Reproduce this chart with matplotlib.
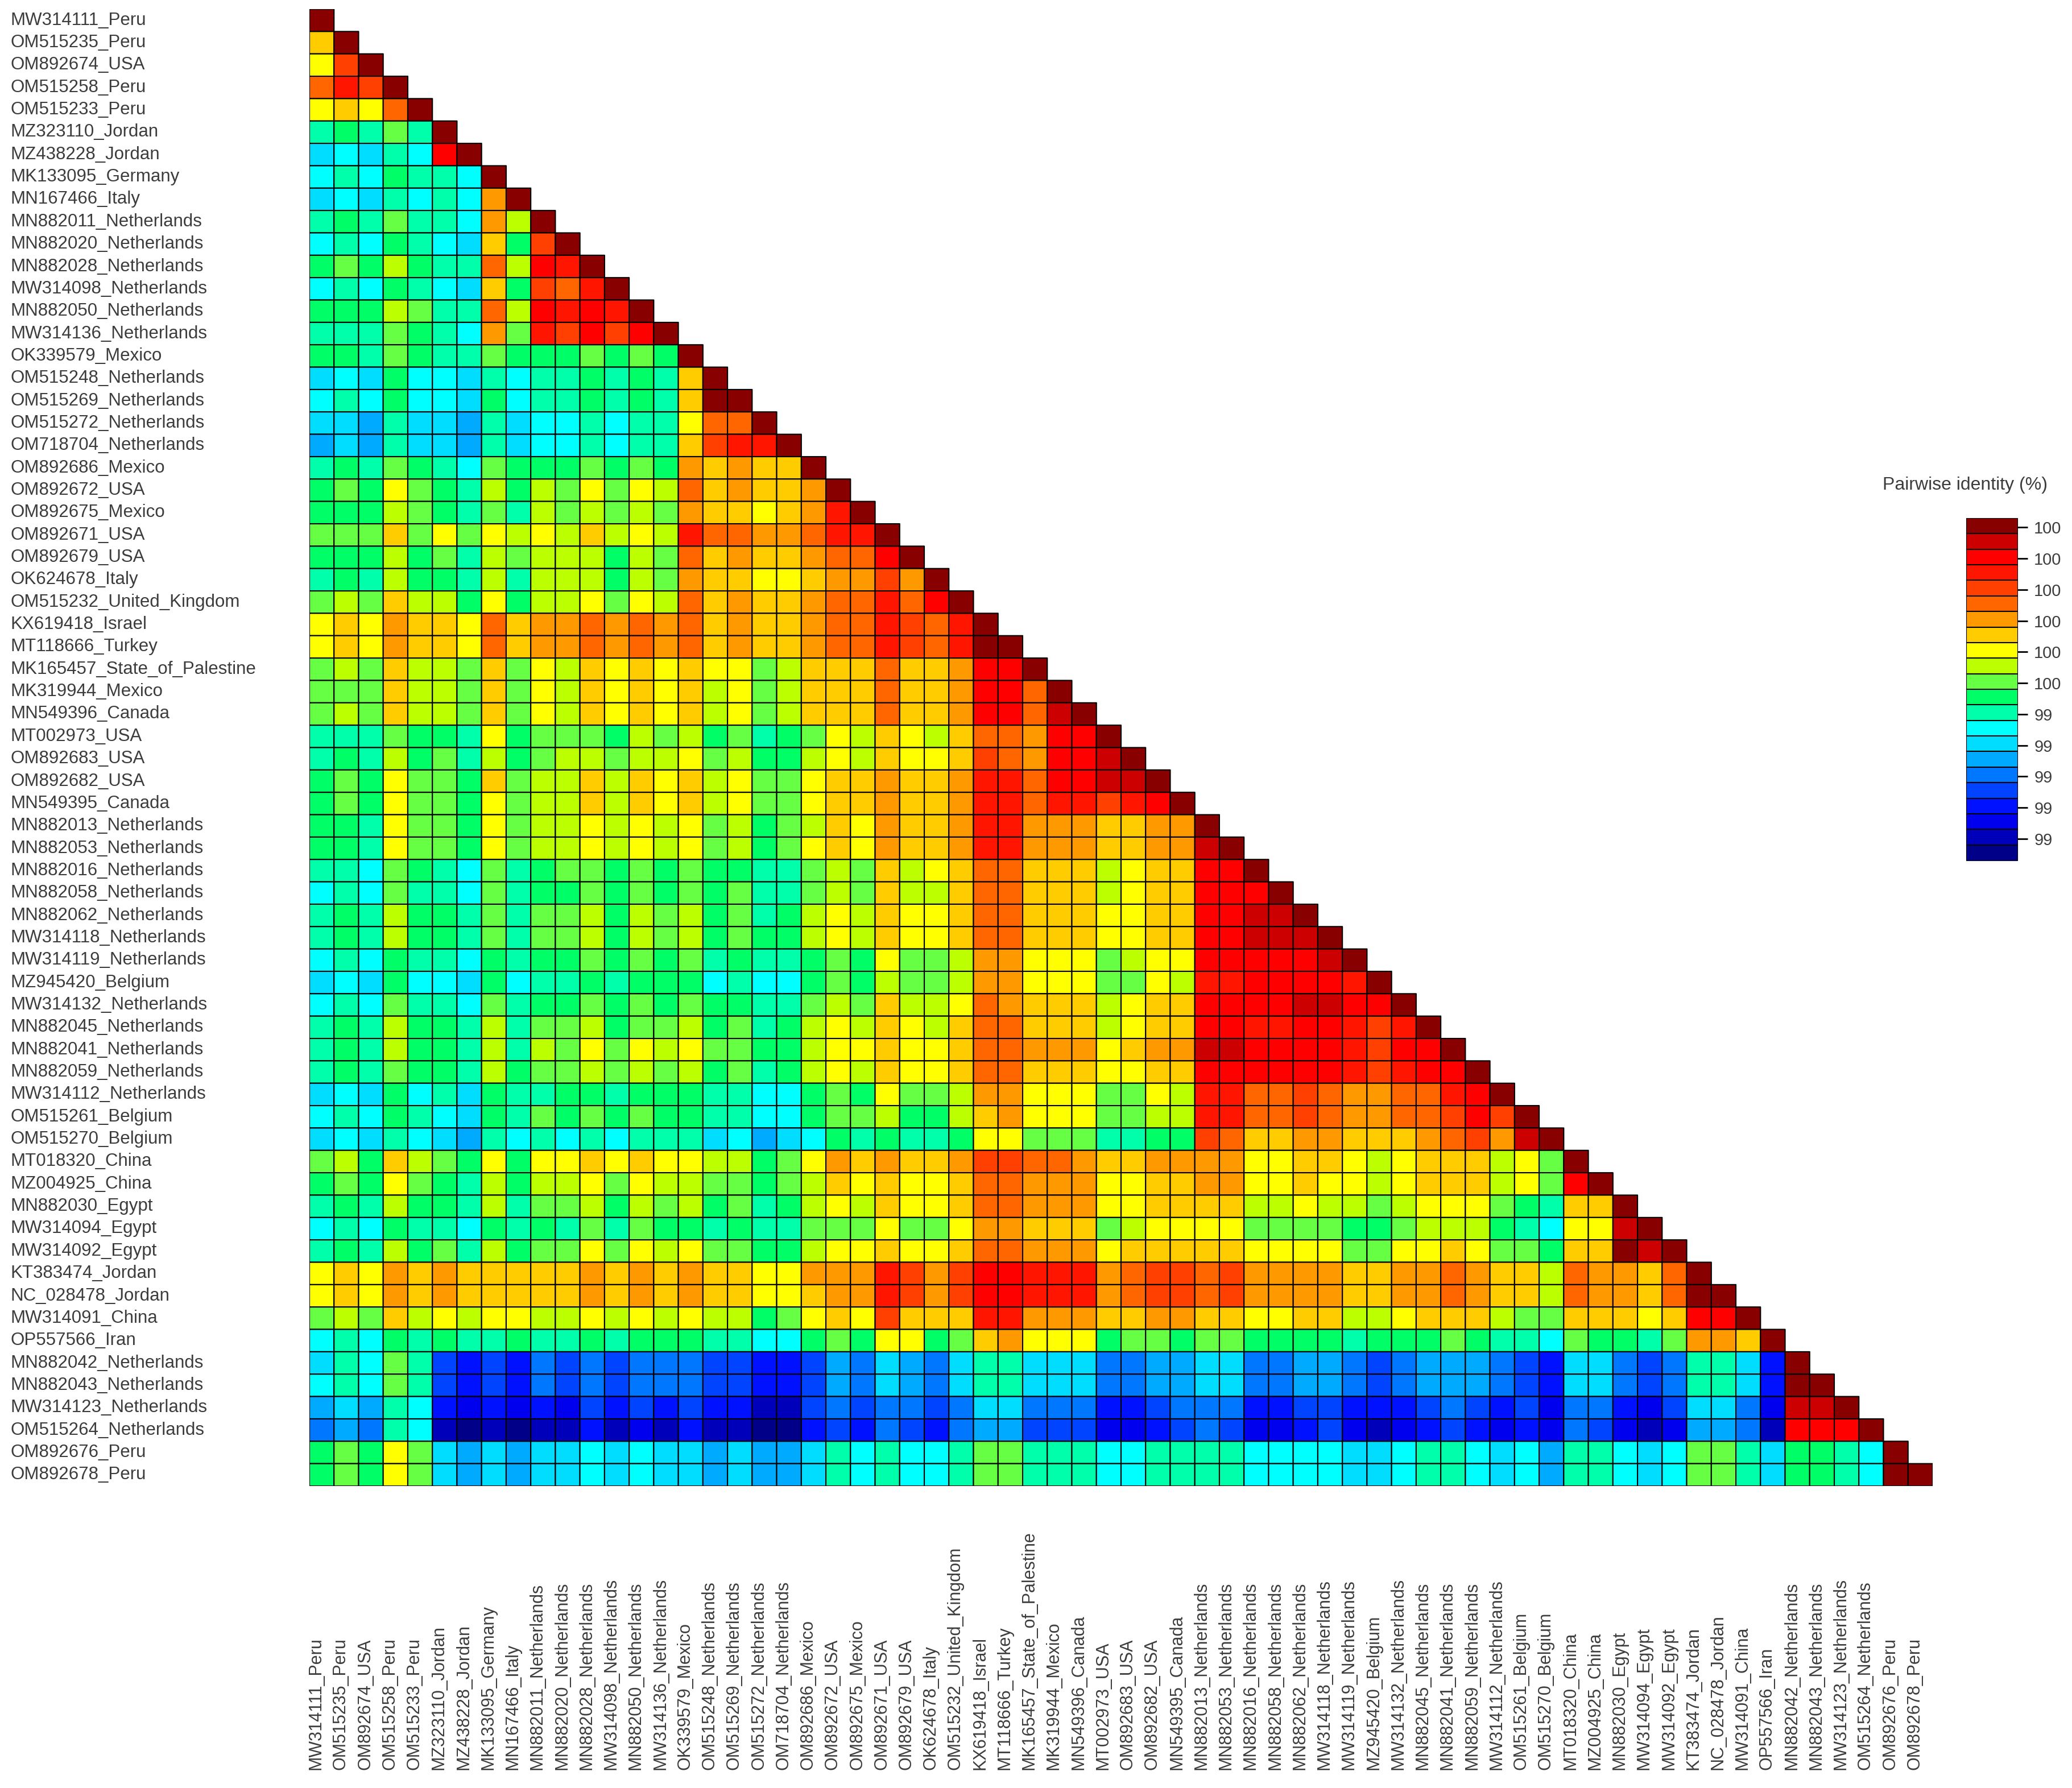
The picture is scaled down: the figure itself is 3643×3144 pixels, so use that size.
import numpy as np
import matplotlib
matplotlib.use("Agg")
import matplotlib.pyplot as plt
from matplotlib.colors import BoundaryNorm, ListedColormap
from matplotlib.transforms import blended_transform_factory

OUTPUT_PATH = "out.png"
WIDTH_PX = 3643
HEIGHT_PX = 3144
TEXT_COLOR = "#3c3c3c"

sequence_labels = [
    "MW314111_Peru", "OM515235_Peru", "OM892674_USA", "OM515258_Peru", "OM515233_Peru",
    "MZ323110_Jordan", "MZ438228_Jordan", "MK133095_Germany", "MN167466_Italy",
    "MN882011_Netherlands", "MN882020_Netherlands", "MN882028_Netherlands",
    "MW314098_Netherlands", "MN882050_Netherlands", "MW314136_Netherlands",
    "OK339579_Mexico", "OM515248_Netherlands", "OM515269_Netherlands",
    "OM515272_Netherlands", "OM718704_Netherlands", "OM892686_Mexico", "OM892672_USA",
    "OM892675_Mexico", "OM892671_USA", "OM892679_USA", "OK624678_Italy",
    "OM515232_United_Kingdom", "KX619418_Israel", "MT118666_Turkey",
    "MK165457_State_of_Palestine", "MK319944_Mexico", "MN549396_Canada", "MT002973_USA",
    "OM892683_USA", "OM892682_USA", "MN549395_Canada", "MN882013_Netherlands",
    "MN882053_Netherlands", "MN882016_Netherlands", "MN882058_Netherlands",
    "MN882062_Netherlands", "MW314118_Netherlands", "MW314119_Netherlands",
    "MZ945420_Belgium", "MW314132_Netherlands", "MN882045_Netherlands",
    "MN882041_Netherlands", "MN882059_Netherlands", "MW314112_Netherlands",
    "OM515261_Belgium", "OM515270_Belgium", "MT018320_China", "MZ004925_China",
    "MN882030_Egypt", "MW314094_Egypt", "MW314092_Egypt", "KT383474_Jordan",
    "NC_028478_Jordan", "MW314091_China", "OP557566_Iran", "MN882042_Netherlands",
    "MN882043_Netherlands", "MW314123_Netherlands", "OM515264_Netherlands",
    "OM892676_Peru", "OM892678_Peru",
]

# pairwise identity, hundredths of a percent above 99, lower triangle row by row
identity_rows = [
    [100],
    [65,100],
    [60,80,100],
    [75,85,80,100],
    [60,65,60,75,100],
    [40,45,40,50,40,100],
    [30,35,30,40,35,90,100],
    [35,40,35,45,40,40,35,100],
    [30,35,30,40,35,40,35,70,100],
    [40,45,40,50,40,40,35,70,55,100],
    [35,40,35,45,40,35,30,65,45,80,100],
    [45,50,45,55,45,40,40,75,55,90,85,100],
    [35,40,35,45,40,35,30,65,45,80,75,85,100],
    [45,45,45,55,50,40,40,75,55,90,85,90,85,100],
    [40,40,40,50,45,40,35,70,50,85,80,90,80,90,100],
    [45,45,40,50,45,40,40,50,45,45,45,50,45,50,45,100],
    [30,35,30,45,35,35,30,40,35,40,40,45,40,45,40,65,100],
    [35,40,35,45,35,35,30,45,35,40,40,45,40,45,40,65,100,100],
    [30,30,25,40,30,30,25,40,30,35,35,40,35,40,40,60,75,75,100],
    [25,30,25,40,30,30,25,40,30,35,35,40,35,40,40,65,80,85,85,100],
    [40,45,40,50,45,40,35,50,45,45,45,50,45,50,45,70,65,70,65,65,100],
    [45,50,45,60,50,45,40,55,45,55,50,60,50,60,55,75,65,70,65,65,70,100],
    [45,45,45,55,50,45,40,50,40,55,50,55,50,55,50,70,65,65,60,65,70,85,100],
    [50,50,50,65,50,60,50,60,55,60,55,65,55,60,55,85,75,75,70,70,75,85,85,100],
    [45,45,45,55,45,50,40,55,50,55,55,55,45,55,50,75,65,70,65,65,70,75,75,90,100],
    [40,45,40,55,45,45,40,55,40,55,55,55,45,55,50,70,65,65,60,60,65,70,70,80,70,100],
    [50,55,50,65,55,55,45,60,45,55,55,60,50,60,55,75,65,70,65,65,70,75,75,85,75,90,100],
    [60,65,60,70,65,65,60,75,65,70,70,75,70,75,70,75,65,70,65,65,70,75,75,85,80,75,85,100],
    [60,65,60,70,65,65,60,75,65,70,70,75,70,75,70,75,65,70,65,65,70,75,75,85,80,75,85,100,100],
    [50,55,50,65,55,55,50,65,50,60,55,65,60,65,60,65,60,60,50,55,65,65,65,75,65,65,70,90,90,100],
    [50,50,50,65,55,55,50,65,50,60,55,65,60,65,60,65,55,60,50,55,65,65,65,75,65,65,70,90,90,75,100],
    [50,55,50,65,55,55,50,65,50,60,55,65,60,65,60,65,55,60,50,55,65,65,65,75,65,65,70,90,90,75,95,100],
    [40,40,40,50,45,45,40,60,45,50,50,50,45,55,50,55,45,50,40,45,50,60,55,65,60,55,65,75,75,70,90,90,100],
    [40,45,40,55,45,50,40,55,45,50,55,55,50,55,55,60,50,55,45,45,55,60,55,65,60,60,65,80,75,70,90,90,95,100],
    [45,50,45,60,50,50,45,65,50,55,55,65,55,65,60,65,55,60,50,50,60,65,65,70,65,65,70,85,85,75,90,90,95,95,100],
    [45,50,45,60,50,50,45,60,50,55,55,65,55,65,60,65,55,60,50,50,60,65,65,70,65,65,70,85,85,75,85,85,80,85,90,100],
    [45,45,40,60,50,50,45,60,50,55,55,60,55,60,55,60,50,55,45,50,55,65,60,70,65,65,70,85,85,70,70,70,65,65,70,70,100],
    [45,45,40,60,50,50,45,60,50,55,55,60,55,60,55,60,50,55,45,50,60,65,60,70,65,65,70,85,85,70,70,70,65,65,70,70,95,100],
    [40,40,35,50,45,40,35,50,40,45,50,50,45,50,45,50,45,45,40,40,50,55,50,65,55,60,65,75,75,65,65,65,55,60,65,65,90,90,100],
    [35,40,35,50,40,40,35,50,40,45,45,50,45,50,45,50,45,50,40,40,50,55,50,65,55,55,65,75,75,65,65,65,55,60,65,65,90,90,90,100],
    [40,45,40,55,45,45,40,50,40,50,50,55,45,55,50,55,45,50,40,45,55,60,55,65,60,60,65,75,75,65,65,65,60,60,65,65,90,90,95,95,100],
    [40,45,40,55,45,45,40,50,40,50,50,55,45,55,50,55,45,50,45,45,55,60,55,65,60,60,65,75,75,65,65,65,60,60,65,65,90,90,95,95,95,100],
    [35,40,35,45,40,40,35,45,40,45,45,50,45,50,45,50,40,45,40,40,45,50,45,60,50,50,55,70,70,60,60,60,50,55,60,60,90,90,90,90,90,95,100],
    [30,35,30,45,35,35,30,45,35,40,40,45,40,45,45,45,35,40,35,35,45,50,45,55,50,50,55,70,70,60,60,60,50,50,60,55,85,85,90,90,90,90,85,100],
    [35,40,35,50,40,40,35,50,40,45,45,50,45,50,45,50,45,45,40,40,50,55,50,65,55,55,60,75,70,65,65,65,55,60,65,65,90,90,90,90,95,95,90,90,100],
    [40,45,40,55,45,45,40,55,40,50,50,55,45,50,50,55,45,50,40,45,55,60,55,65,60,55,65,75,75,65,65,65,55,60,65,65,90,90,85,85,90,90,85,80,85,100],
    [40,45,40,55,45,45,40,55,40,55,50,60,50,60,55,60,50,50,45,45,55,60,60,65,60,60,65,75,75,70,70,70,60,65,70,70,95,95,90,90,90,90,85,80,90,90,100],
    [40,45,40,50,45,45,40,55,45,50,50,55,50,55,50,55,45,50,40,45,55,60,55,65,60,60,65,75,75,65,65,65,60,60,65,65,90,90,90,90,90,90,85,80,85,90,90,100],
    [30,35,30,45,35,40,30,45,40,40,45,45,40,45,45,45,40,40,35,35,45,50,45,60,50,50,55,70,70,60,60,60,50,50,60,55,85,85,75,75,80,75,70,70,75,75,85,90,100],
    [35,40,35,45,40,35,30,45,40,50,45,50,45,50,45,45,40,40,35,35,45,50,50,55,45,45,55,65,70,60,60,60,50,50,55,55,85,85,75,75,80,75,70,70,75,75,80,90,80,100],
    [30,35,30,40,35,30,25,40,35,40,35,40,35,40,40,40,30,35,25,30,35,45,40,45,40,40,45,60,60,50,50,50,40,40,45,45,80,75,65,65,70,70,65,65,65,70,75,80,70,95,100],
    [50,55,45,65,55,50,45,60,45,60,60,65,60,65,60,60,55,55,45,50,60,70,65,70,65,65,70,80,80,75,75,70,65,65,70,70,70,70,60,60,65,65,60,55,60,65,65,65,55,60,50,100],
    [45,50,45,60,50,45,40,55,45,55,55,60,50,60,55,55,50,50,45,50,55,65,60,65,60,60,65,75,75,70,70,70,60,60,65,65,70,70,60,60,65,60,60,55,60,65,65,65,55,60,50,90,100],
    [40,45,40,55,45,45,40,55,40,50,50,55,45,55,50,55,45,50,40,45,55,60,55,65,60,60,65,75,75,70,70,70,60,60,65,65,65,65,55,55,60,55,55,50,55,60,60,60,50,45,40,65,65,100],
    [35,40,35,45,40,40,35,45,40,45,40,50,40,50,45,45,40,45,40,40,50,50,50,60,50,50,60,70,70,65,65,65,50,55,60,60,60,60,50,50,50,50,45,45,50,55,55,55,45,40,35,60,60,95,100],
    [40,45,40,55,45,50,40,55,45,50,50,60,50,60,55,60,50,50,45,45,55,60,60,65,60,60,65,75,75,70,70,70,60,65,65,65,65,65,60,60,60,60,50,50,60,60,65,60,50,50,45,65,65,100,95,100],
    [60,65,60,70,65,70,65,65,65,65,65,70,65,70,65,70,65,65,60,60,70,70,70,85,80,70,80,90,90,85,85,85,70,75,80,80,75,80,70,70,70,70,65,65,70,70,75,70,65,65,55,75,70,70,65,75,100],
    [60,65,60,70,65,70,65,65,65,65,65,70,65,70,65,70,65,65,60,60,65,70,70,85,80,70,80,90,90,85,85,85,70,75,80,80,75,80,70,70,70,70,65,65,70,70,75,70,65,65,55,75,70,70,65,75,100,100],
    [50,55,50,65,55,60,55,60,60,55,55,60,55,60,55,60,55,55,45,50,60,65,60,80,65,65,65,85,85,70,70,70,65,65,70,70,65,65,60,60,65,65,55,55,60,65,65,65,55,50,50,65,65,65,60,65,90,90,100],
    [35,40,35,45,40,45,40,40,45,40,40,45,40,45,45,45,40,40,35,35,45,50,45,60,60,45,50,65,70,60,60,60,45,50,50,45,50,50,45,45,45,45,40,45,45,45,50,45,40,40,35,50,45,45,40,50,70,70,65,100],
    [30,40,35,50,40,15,10,15,10,20,15,20,15,20,20,20,15,15,10,10,15,25,20,30,25,20,30,40,40,30,30,30,20,20,25,25,30,30,20,20,25,25,20,15,20,25,25,25,20,15,10,30,30,20,15,20,40,40,30,10,100],
    [35,40,35,50,40,15,10,15,10,20,15,20,15,20,20,20,15,15,10,10,15,25,20,30,25,20,30,40,40,30,30,30,20,20,25,25,30,30,20,20,25,25,20,15,20,25,25,25,20,15,10,30,30,20,15,20,40,40,30,10,100,100],
    [25,30,25,40,35,10,5,10,5,10,5,15,10,15,10,15,10,10,0,0,15,20,15,20,20,15,20,30,30,20,20,20,10,10,15,20,20,20,10,10,15,15,10,10,10,15,20,15,10,15,5,20,20,10,5,15,30,30,20,5,95,95,100],
    [20,25,20,40,35,0,-5,0,-5,0,0,10,0,5,0,10,0,0,-5,-5,10,15,10,20,15,10,20,25,25,15,15,15,5,5,10,15,20,15,5,5,10,15,5,0,5,10,15,10,5,10,5,20,15,5,0,5,25,25,20,0,90,90,90,100],
    [45,50,45,60,50,30,25,30,25,30,30,35,30,35,30,30,25,30,25,25,30,40,35,40,35,35,40,50,50,40,40,40,35,35,40,40,40,40,35,35,35,35,30,30,35,40,40,35,30,35,25,40,40,35,30,35,50,50,40,30,45,45,40,35,100],
    [45,50,45,60,50,30,25,30,25,30,30,35,30,35,30,30,25,30,25,25,30,40,35,40,35,35,40,50,50,40,40,40,35,35,40,40,40,40,35,35,35,35,30,30,35,40,40,35,30,35,25,40,40,35,30,35,50,50,40,30,45,45,40,35,100,100],
]

band_colors = [
    "#000088", "#0000bb", "#0000ee", "#0011ff", "#0044ff", "#0077ff", "#00aaff", "#00ddff",
    "#00ffff", "#00ffaa", "#00ff66", "#66ff44", "#bbff00", "#ffff00", "#ffcc00", "#ff9900",
    "#ff6600", "#ff4000", "#ff1500", "#ff0000", "#cc0000", "#880000",
]
band_edges = [
    98.93, 98.98, 99.03, 99.08, 99.13, 99.18, 99.23, 99.28, 99.33, 99.38, 99.43, 99.48,
    99.53, 99.58, 99.63, 99.68, 99.73, 99.78, 99.83, 99.88, 99.93, 99.98, 100.03,
]
colorbar_ticks = [99.0, 99.1, 99.2, 99.3, 99.4, 99.5, 99.6, 99.7, 99.8, 99.9, 100.0]


def px_box(left, top, right, bottom):
    return [
        left / WIDTH_PX,
        1 - bottom / HEIGHT_PX,
        (right - left) / WIDTH_PX,
        (bottom - top) / HEIGHT_PX,
    ]


def build_matrix():
    count = len(sequence_labels)
    matrix = np.full((count, count), np.nan)
    for index, row in enumerate(identity_rows):
        matrix[index, : len(row)] = 99 + np.array(row) / 100
    return np.ma.masked_invalid(matrix)


def draw_labels(ax):
    left_trans = blended_transform_factory(ax.figure.transFigure, ax.transData)
    bottom_trans = blended_transform_factory(ax.transData, ax.figure.transFigure)
    for index, label in enumerate(sequence_labels):
        ax.text(18 / WIDTH_PX, index + 0.5, label, transform=left_trans, ha="left",
                va="center", fontsize=22.5, color=TEXT_COLOR, clip_on=False)
        ax.text(index + 0.27, 1 - 3112 / HEIGHT_PX, label, transform=bottom_trans,
                rotation=90, ha="center", va="bottom", fontsize=22, color=TEXT_COLOR,
                clip_on=False)


def main():
    fig = plt.figure(figsize=(WIDTH_PX / 100, HEIGHT_PX / 100), dpi=100, facecolor="white")
    plt.rcParams["font.family"] = ["Liberation Sans", "DejaVu Sans"]

    cmap = ListedColormap(band_colors)
    norm = BoundaryNorm(band_edges, cmap.N)

    ax = fig.add_axes(px_box(544, 16, 3398, 2613))
    count = len(sequence_labels)
    # pcolor leaves the masked upper triangle out, edges included
    mesh = ax.pcolor(np.arange(count + 1), np.arange(count + 1), build_matrix(),
                     cmap=cmap, norm=norm, edgecolors="black", linewidth=1.5)
    ax.set_xlim(0, count)
    ax.set_ylim(count, 0)
    ax.axis("off")
    draw_labels(ax)

    cax = fig.add_axes(px_box(3457, 911, 3547, 1513))
    bar = fig.colorbar(mesh, cax=cax, ticks=colorbar_ticks, format="%.0f", drawedges=True)
    bar.dividers.set_color("black")
    bar.dividers.set_linewidth(1.5)
    bar.outline.set_linewidth(0.8)
    bar.minorticks_off()
    cax.tick_params(axis="y", length=13, width=2, pad=8, labelsize=21, labelcolor=TEXT_COLOR)
    fig.text(3455 / WIDTH_PX, 1 - 853 / HEIGHT_PX, "Pairwise identity (%)", ha="center",
             va="center", fontsize=23, color=TEXT_COLOR)

    fig.savefig(OUTPUT_PATH, dpi=100, facecolor="white")
    plt.close(fig)


if __name__ == "__main__":
    main()
